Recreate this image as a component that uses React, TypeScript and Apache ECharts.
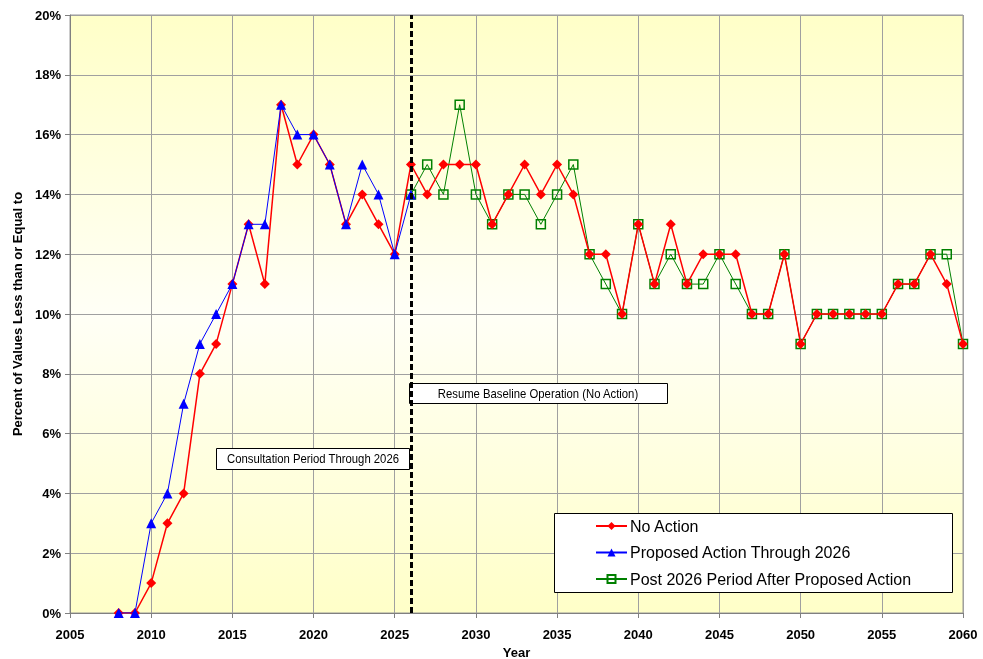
import React, { useEffect, useRef } from "react";
import * as echarts from "echarts";

const noActionYears = [
  2008, 2009, 2010, 2011, 2012, 2013, 2014, 2015, 2016, 2017,
  2018, 2019, 2020, 2021, 2022, 2023, 2024, 2025, 2026, 2027,
  2028, 2029, 2030, 2031, 2032, 2033, 2034, 2035, 2036, 2037,
  2038, 2039, 2040, 2041, 2042, 2043, 2044, 2045, 2046, 2047,
  2048, 2049, 2050, 2051, 2052, 2053, 2054, 2055, 2056, 2057,
  2058, 2059, 2060,
];
const noActionValues = [
  0, 0, 1, 3, 4, 8, 9, 11, 13, 11,
  17, 15, 16, 15, 13, 14, 13, 12, 15, 14,
  15, 15, 15, 13, 14, 15, 14, 15, 14, 12,
  12, 10, 13, 11, 13, 11, 12, 12, 12, 10,
  10, 12, 9, 10, 10, 10, 10, 10, 11, 11,
  12, 11, 9,
];

const proposedYears = [
  2008, 2009, 2010, 2011, 2012, 2013, 2014, 2015, 2016, 2017,
  2018, 2019, 2020, 2021, 2022, 2023, 2024, 2025, 2026,
];
const proposedValues = [
  0, 0, 3, 4, 7, 9, 10, 11, 13, 13,
  17, 16, 16, 15, 13, 15, 14, 12, 14,
];

const postYears = [
  2026, 2027, 2028, 2029, 2030, 2031, 2032, 2033, 2034, 2035,
  2036, 2037, 2038, 2039, 2040, 2041, 2042, 2043, 2044, 2045,
  2046, 2047, 2048, 2049, 2050, 2051, 2052, 2053, 2054, 2055,
  2056, 2057, 2058, 2059, 2060,
];
const postValues = [
  14, 15, 14, 17, 14, 13, 14, 14, 13, 14,
  15, 12, 11, 10, 13, 11, 12, 11, 11, 12,
  11, 10, 10, 12, 9, 10, 10, 10, 10, 10,
  11, 11, 12, 12, 9,
];

const seriesNames = [
  "No Action",
  "Proposed Action Through 2026",
  "Post 2026 Period After Proposed Action",
];
const dividerYear = 2026;
const annotationTexts = [
  "Consultation Period Through 2026",
  "Resume Baseline Operation (No Action)",
];

const pair = (xs: number[], ys: number[]) => xs.map((x, i) => [x, ys[i]]);

const FONT = "'Liberation Sans', Arial, sans-serif";

export default function App() {
  const ref = useRef<HTMLDivElement>(null);
  useEffect(() => {
    if (!ref.current) return;
    const chart = echarts.init(ref.current, undefined, { renderer: "svg" });
    const axisLabelStyle = {
      color: "#000",
      fontFamily: FONT,
      fontWeight: "bold" as const,
      fontSize: 13,
    };
    chart.setOption({
      animation: false,
      grid: {
        left: 70,
        right: 20,
        top: 15,
        bottom: 46,
        outerBoundsMode: "none",
        containLabel: false,
        show: true,
        borderColor: "#999",
        borderWidth: 1,
        backgroundColor: new echarts.graphic.LinearGradient(0, 0, 0, 1, [
          { offset: 0, color: "#FFFFC8" },
          { offset: 0.5, color: "#FFFFF6" },
          { offset: 1, color: "#FFFFC8" },
        ]),
      },
      xAxis: {
        type: "value",
        min: 2005,
        max: 2060,
        interval: 5,
        name: "Year",
        nameLocation: "middle",
        nameGap: 31,
        nameTextStyle: { ...axisLabelStyle, fontSize: 13 },
        axisLine: { show: true, lineStyle: { color: "#808080", width: 1 } },
        axisTick: { show: true, length: 5, lineStyle: { color: "#808080" } },
        axisLabel: { ...axisLabelStyle, margin: 15, formatter: (v: number) => String(v) },
        splitLine: { show: true, lineStyle: { color: "#A0A0A0", width: 1 } },
      },
      yAxis: {
        type: "value",
        min: 0,
        max: 20,
        interval: 2,
        name: "Percent of Values Less than or Equal to",
        nameLocation: "middle",
        nameGap: 46,
        nameTextStyle: { ...axisLabelStyle, fontSize: 13 },
        axisLine: { show: true, lineStyle: { color: "#808080", width: 1 } },
        axisTick: { show: true, length: 5, lineStyle: { color: "#808080" } },
        axisLabel: { ...axisLabelStyle, margin: 9, formatter: "{value}%" },
        splitLine: { show: true, lineStyle: { color: "#A0A0A0", width: 1 } },
      },
      legend: {
        data: seriesNames,
        orient: "vertical",
        left: 595,
        top: 518,
        z: 30,
        itemWidth: 31,
        itemHeight: 10,
        itemGap: 10.5,
        padding: 0,
        textStyle: { fontFamily: FONT, fontSize: 16, color: "#000", padding: [0, 0, 0, -2] },
      },
      graphic: [
        {
          type: "rect",
          z: 1,
          shape: { x: 554.5, y: 513.5, width: 398, height: 79 },
          style: { fill: "#fff", stroke: "#000", lineWidth: 1 },
        },
        {
          type: "rect",
          z: 1,
          shape: { x: 216.5, y: 448.5, width: 193, height: 21 },
          style: { fill: "#fff", stroke: "#000", lineWidth: 1 },
        },
        {
          type: "text",
          z: 2,
          x: 313,
          y: 459,
          scaleX: 0.87,
          style: {
            text: annotationTexts[0],
            fontFamily: FONT,
            fontSize: 13,
            fill: "#000",
            align: "center",
            verticalAlign: "middle",
          },
        },
        {
          type: "rect",
          z: 1,
          shape: { x: 409.5, y: 383.5, width: 258, height: 20 },
          style: { fill: "#fff", stroke: "#000", lineWidth: 1 },
        },
        {
          type: "text",
          z: 2,
          x: 538,
          y: 393.5,
          scaleX: 0.87,
          style: {
            text: annotationTexts[1],
            fontFamily: FONT,
            fontSize: 13,
            fill: "#000",
            align: "center",
            verticalAlign: "middle",
          },
        },
      ],
      series: [
        {
          name: seriesNames[2],
          type: "line",
          z: 2,
          data: pair(postYears, postValues),
          symbol: "rect",
          symbolSize: 9,
          lineStyle: { color: "#008000", width: 1 },
          itemStyle: { color: "rgba(255,255,255,0)", borderColor: "#008000", borderWidth: 1.5 },
        },
        {
          name: seriesNames[0],
          type: "line",
          z: 3,
          data: pair(noActionYears, noActionValues),
          symbol: "diamond",
          symbolSize: 10,
          lineStyle: { color: "#FF0000", width: 1.5 },
          itemStyle: { color: "#FF0000" },
        },
        {
          name: seriesNames[1],
          type: "line",
          z: 4,
          data: pair(proposedYears, proposedValues),
          symbol: "triangle",
          symbolSize: 10,
          lineStyle: { color: "#0000FF", width: 1 },
          itemStyle: { color: "#0000FF" },
          markLine: {
            silent: true,
            symbol: "none",
            label: { show: false },
            lineStyle: { color: "#000", width: 3, type: [6, 3] },
            data: [{ xAxis: dividerYear }],
          },
        },
      ],
    });
    return () => chart.dispose();
  }, []);
  return (
    <div
      ref={ref}
      style={{ position: "fixed", left: 0, top: 0, width: 983, height: 659 }}
    />
  );
}
